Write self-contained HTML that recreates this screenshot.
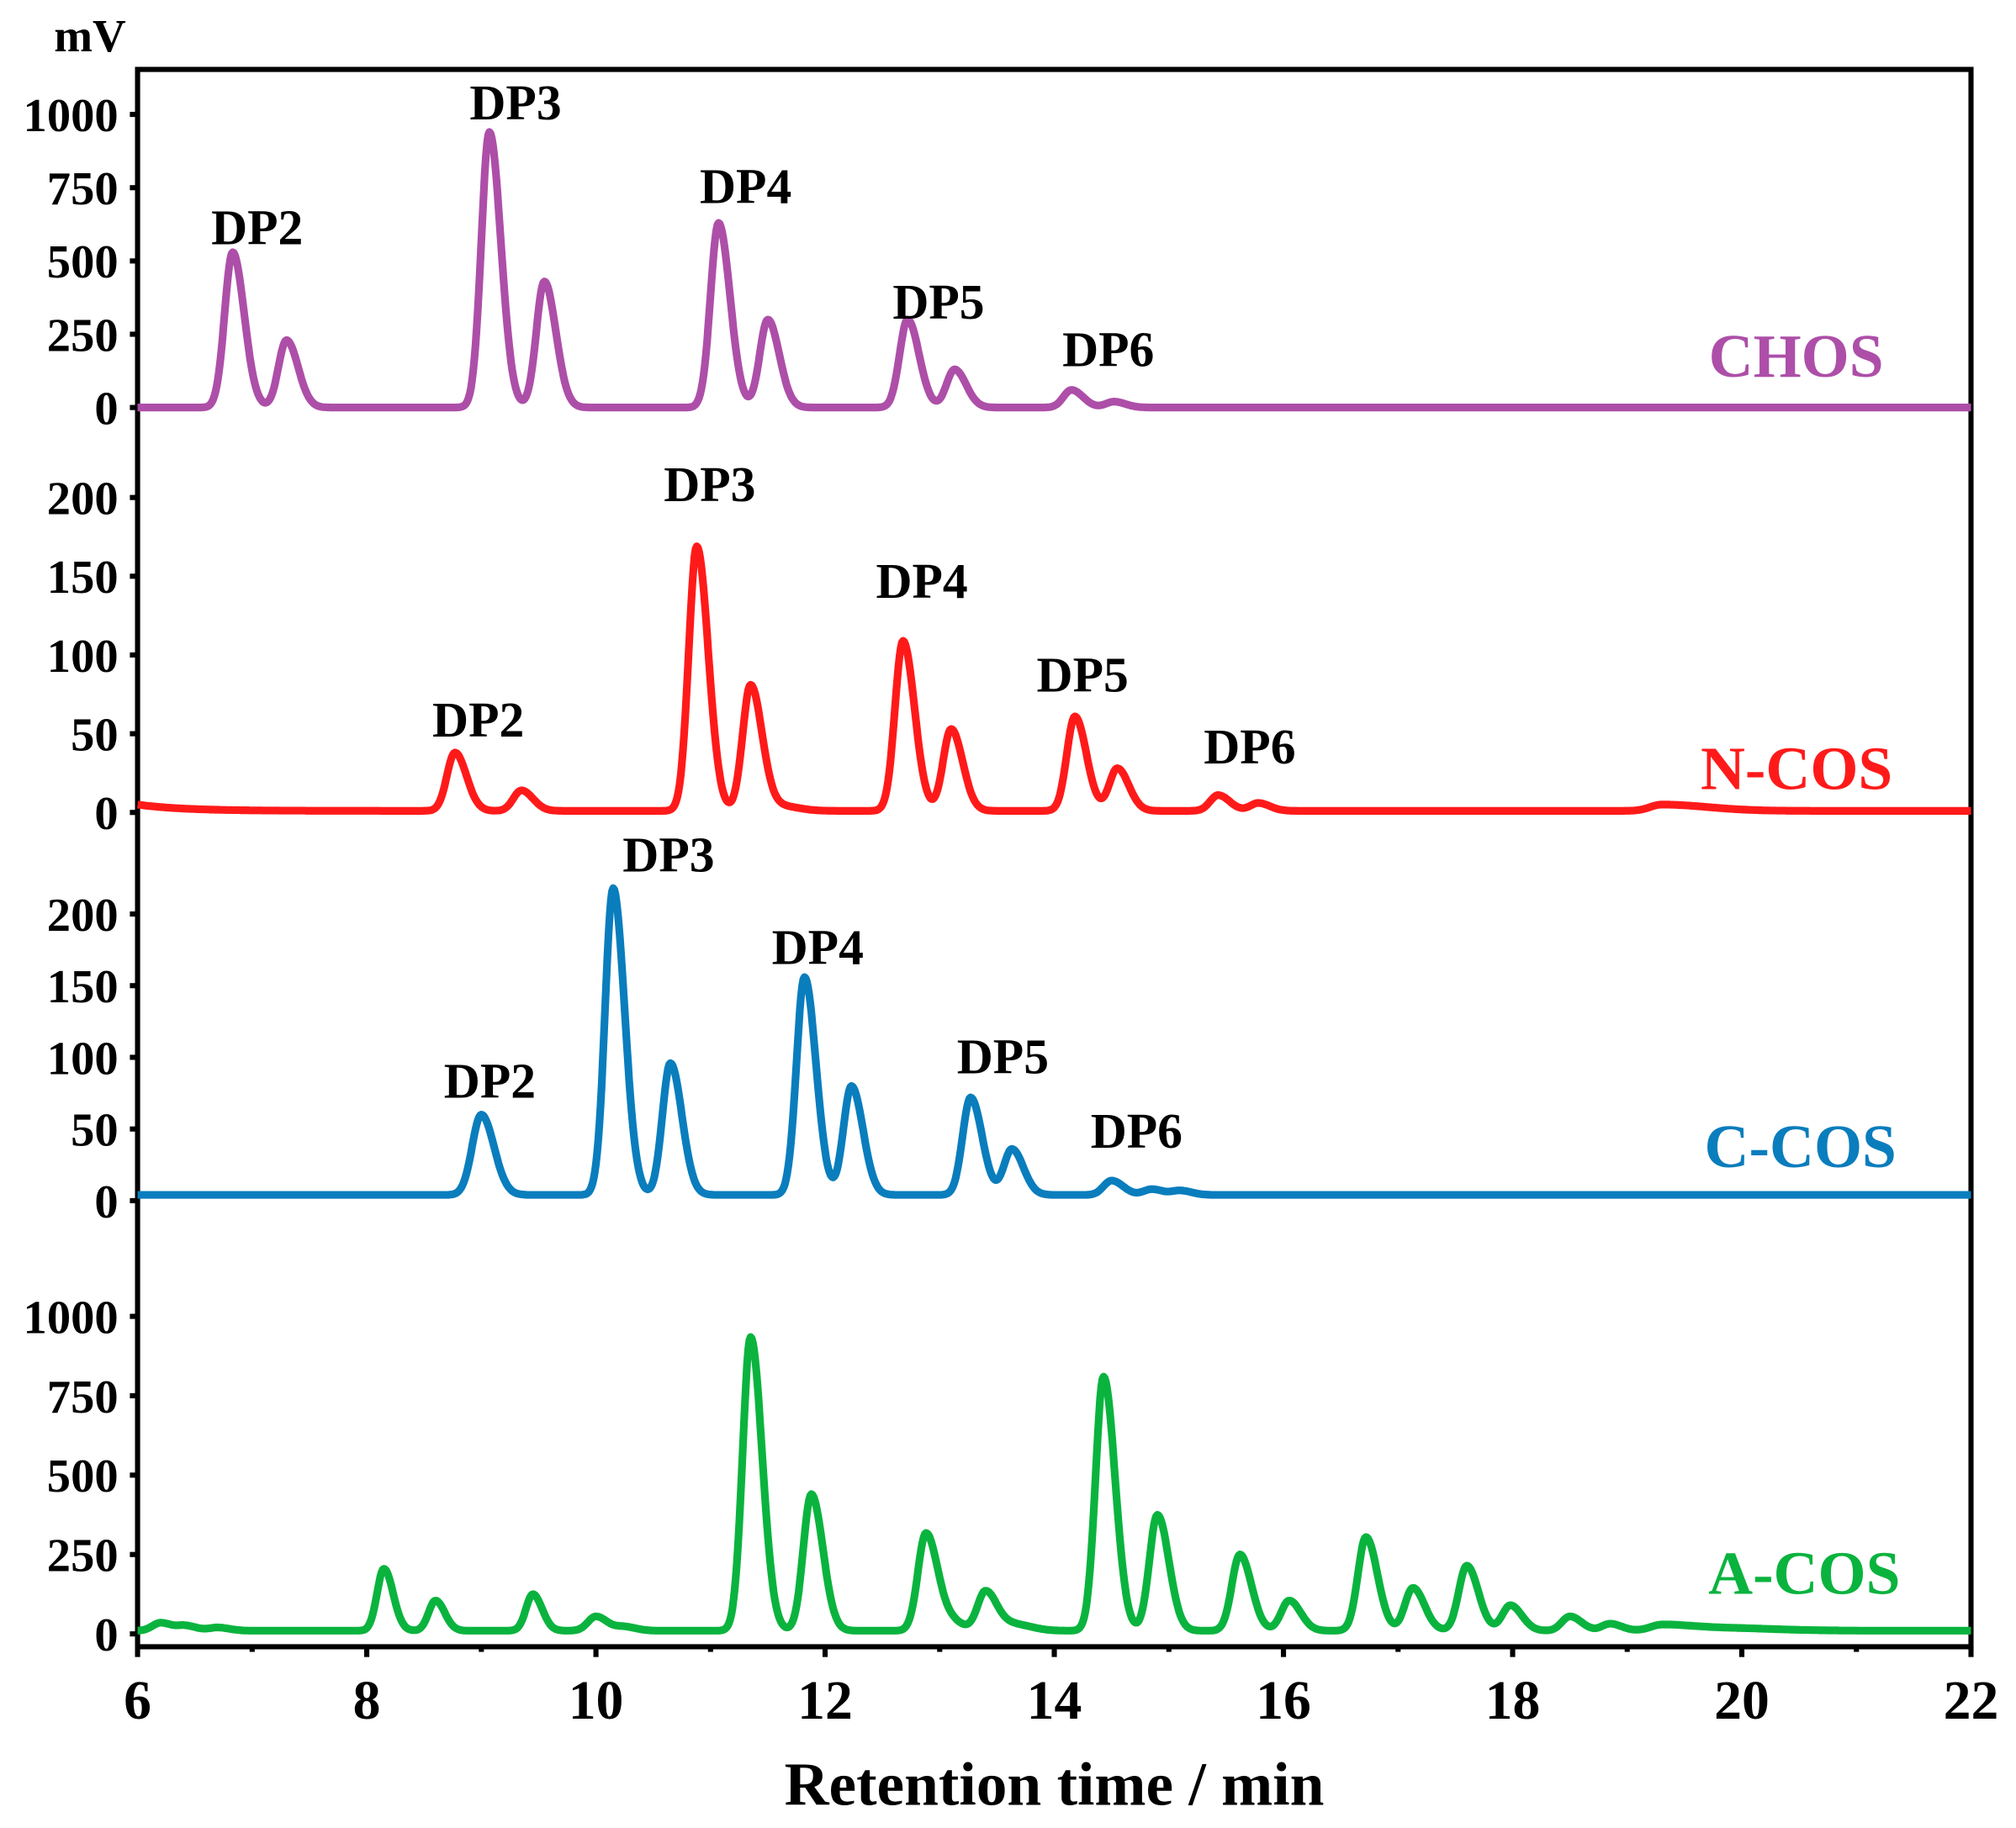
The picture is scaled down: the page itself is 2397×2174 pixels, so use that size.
<!DOCTYPE html>
<html><head><meta charset="utf-8"><style>
html,body{margin:0;padding:0;background:#fff}
svg{display:block}
text{font-family:"Liberation Serif","Times New Roman",serif;font-weight:bold}
</style></head><body>
<svg id="s" width="2397" height="2174" viewBox="0 0 1568 1422" preserveAspectRatio="none" xmlns="http://www.w3.org/2000/svg">
<rect x="107" y="54" width="1426" height="1227" fill="none" stroke="#000" stroke-width="4"/>
<g id="ticks" stroke="#000" stroke-width="4"></g>
<g id="series" fill="none" stroke-width="6" stroke-linejoin="round"></g>
<g font-size="37" text-anchor="end" id="ylab"></g>
<g font-size="43" text-anchor="middle" id="xlab"></g>
<text x="70" y="40" font-size="36" text-anchor="middle">mV</text>
<text x="820" y="1404" font-size="48" text-anchor="middle">Retention time / min</text>
<g font-size="39" text-anchor="middle">
<text x="200" y="190">DP2</text><text x="401" y="93">DP3</text><text x="580" y="158">DP4</text><text x="730" y="248">DP5</text><text x="862" y="285">DP6</text>
<text x="372" y="573">DP2</text><text x="552" y="390">DP3</text><text x="717" y="465">DP4</text><text x="842" y="538">DP5</text><text x="972" y="594">DP6</text>
<text x="381" y="854">DP2</text><text x="520" y="678">DP3</text><text x="636" y="750">DP4</text><text x="780" y="835">DP5</text><text x="884" y="893">DP6</text>
</g>
<g font-size="48" text-anchor="end">
<text x="1465" y="293" fill="#ad4fa8">CHOS</text>
<text x="1472" y="614" fill="#ff1a1a">N-COS</text>
<text x="1475" y="908" fill="#0a7dbd">C-COS</text>
<text x="1478" y="1240" fill="#0ab33e">A-COS</text>
</g>
</svg>
<script>
var NS="http://www.w3.org/2000/svg";
function X(t){return 107+(t-6)*89.125;}
function el(tag,attrs,parent,txt){var e=document.createElementNS(NS,tag);for(var k in attrs)e.setAttribute(k,attrs[k]);if(txt!==undefined)e.textContent=txt;document.getElementById(parent).appendChild(e);return e;}
for(var t=6;t<=22;t++){var x=X(t);var L=(t%2==0)?8:4;el("line",{x1:x,y1:1281,x2:x,y2:1281+L},"ticks");if(t%2==0)el("text",{x:x,y:1337},"xlab",""+t);}
var panels=[
 {vals:[0,250,500,750,1000],y0:317,k:0.228},
 {vals:[0,50,100,150,200],y0:632,k:1.225},
 {vals:[0,50,100,150,200],y0:934,k:1.115},
 {vals:[0,250,500,750,1000],y0:1271,k:0.247}];
panels.forEach(function(p){p.vals.forEach(function(v){var y=p.y0-v*p.k;el("line",{x1:101,y1:y,x2:107,y2:y},"ticks");el("text",{x:92,y:y+13},"ylab",""+v);});});
function series(y0,k,base,peaks,color,extra){
 var d="";for(var i=0;i<=1600;i++){var t=6+16*i/1600;var v=base+(extra?extra(t):0);
  peaks.forEach(function(p){var s=t<p[0]?(p[2]||0.07):(p[3]||0.1);v+=p[1]*Math.exp(-0.5*Math.pow((t-p[0])/s,2));});
  d+=(i?"L":"M")+X(t).toFixed(1)+" "+(y0-v*k).toFixed(1);}
 el("path",{d:d,stroke:color},"series");}
series(317,0.228,0,[[6.83,530],[7.3,230],[9.07,940],[9.55,430],[11.07,630],[11.5,300],[12.72,300],[13.13,130],[14.15,60],[14.52,20]],"#ad4fa8");
series(632,1.225,1,[[8.77,37],[9.35,13],[10.88,168],[11.35,80],[11.62,3,0.1,0.15],[12.68,108],[13.1,52],[14.18,60],[14.55,27],[15.43,10],[15.78,5],[19.3,4,0.1,0.4]],"#ff1a1a",function(t){return 4*Math.exp(-(t-6)*2.5);});
series(934,1.115,4,[[9.0,56,0.08,0.11],[10.15,214],[10.65,92],[11.82,152],[12.23,76],[13.27,68],[13.63,32],[14.5,10],[14.85,4],[15.1,3]],"#0a7dbd");
series(1271,0.247,10,[[6.2,25],[6.42,15],[6.7,10],[8.15,195,0.06,0.08],[8.6,95,0.06,0.08],[9.45,115,0.06,0.08],[10.0,45],[10.25,12],[11.35,925],[11.88,430],[12.88,305],[13.1,30,0.1,0.1],[13.4,125],[13.65,20,0.1,0.15],[14.43,800],[14.9,365],[15.62,240],[16.05,95],[16.72,295],[17.13,135],[17.6,205],[17.98,80],[18.5,45],[18.85,22],[19.3,18,0.1,0.2],[19.7,10,0.2,0.5]],"#0ab33e");
</script>
</body></html>
